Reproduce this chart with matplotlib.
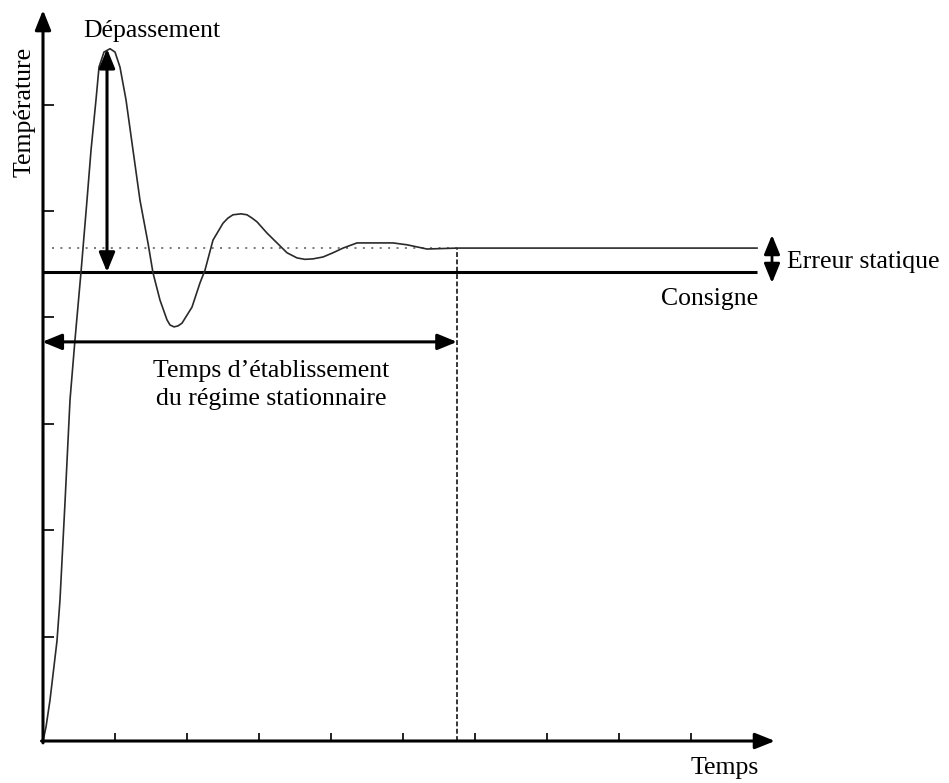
import matplotlib
matplotlib.use("Agg")
import matplotlib.pyplot as plt

# ---- data (time in tick units, temperature normalised to the set point) ----
time = [0, 0.042, 0.097, 0.194, 0.236, 0.306, 0.375, 0.444, 0.528, 0.611,
        0.667, 0.736, 0.778, 0.847, 0.931, 1.0, 1.069, 1.153, 1.25, 1.347,
        1.458, 1.528, 1.625, 1.722, 1.764, 1.819, 1.875, 1.931, 2.069, 2.181,
        2.25, 2.361, 2.5, 2.569, 2.639, 2.75, 2.833, 2.903, 2.972, 3.111, 3.25,
        3.389, 3.528, 3.639, 3.75, 3.889, 4.028, 4.167, 4.361, 4.861, 5.056,
        5.333, 5.75, 9.917]
temperature = [0, 0.030, 0.087, 0.213, 0.301, 0.510, 0.727, 0.855, 1.0, 1.153,
               1.260, 1.367, 1.437, 1.469, 1.476, 1.469, 1.437, 1.367, 1.260,
               1.153, 1.062, 0.998, 0.940, 0.898, 0.887, 0.883, 0.885, 0.891,
               0.925, 0.977, 1.004, 1.068, 1.104, 1.115, 1.122, 1.124, 1.122,
               1.115, 1.107, 1.083, 1.062, 1.041, 1.030, 1.027, 1.028, 1.032,
               1.041, 1.051, 1.062, 1.062, 1.058, 1.049, 1.051, 1.051]

consigne = 1.0
steady_value = 1.051
t_end = 9.917
t_settle = 5.75
t_peak = 0.889
peak_value = 1.476
t_dotted_start = 0.125
settle_arrow_y = 0.851
t_error_arrow = 10.125
error_arrow_span = [0.9765, 1.079]

x_ticks = [1, 2, 3, 4, 5, 6, 7, 8, 9]
y_ticks = [0.2224, 0.4493, 0.6761, 0.9030, 1.1298, 1.3567]

x_axis_end = 10.167
y_axis_end = 1.5586

# ---- figure ----
plt.rcParams["font.family"] = ["Liberation Serif", "DejaVu Serif"]
FS = 18.5

fig = plt.figure(figsize=(9.49, 7.83), dpi=100)
ax = fig.add_axes([0, 0, 1, 1])
ax.set_xlim(-43 / 72, 906 / 72)
ax.set_ylim(-42 / 469, 741 / 469)

for s in ["top", "right", "left", "bottom"]:
    ax.spines[s].set_visible(False)
ax.spines["left"].set_position(("data", 0))
ax.spines["bottom"].set_position(("data", 0))
ax.xaxis.set_ticks_position("bottom")
ax.yaxis.set_ticks_position("left")
ax.set_xticks(x_ticks)
ax.set_yticks(y_ticks)
ax.tick_params(axis="x", direction="in", length=6, width=1.4, color="#222")
ax.tick_params(axis="y", direction="in", length=8, width=1.4, color="#222")
ax.tick_params(labelbottom=False, labelleft=False)

axis_arrow = dict(arrowstyle="-|>,head_length=0.8,head_width=0.32", lw=2.2,
                  color="black", shrinkA=0, shrinkB=0, mutation_scale=15)
ax.annotate("", xy=(x_axis_end, 0), xytext=(-0.02, 0), arrowprops=axis_arrow)
ax.annotate("", xy=(0, y_axis_end), xytext=(0, -0.004), arrowprops=axis_arrow)

# set point
ax.plot([0, t_end], [consigne, consigne], color="black", lw=2.2,
        solid_capstyle="butt")
# dotted steady-state reference
ax.plot([t_dotted_start, t_settle], [steady_value, steady_value], color="#555",
        lw=1.1, linestyle=(0, (1.3, 4.2)))
# settling time vertical dashed
ax.plot([t_settle, t_settle], [0, steady_value], color="black", lw=1.1,
        linestyle=(0, (3.2, 1.6)))
# response curve
ax.plot(time, temperature, color="#2a2a2a", lw=1.2, solid_joinstyle="round")

dbl = dict(arrowstyle="<|-|>,head_length=0.78,head_width=0.32", lw=2.2,
           color="black", shrinkA=0, shrinkB=0, mutation_scale=15)
ax.annotate("", xy=(t_peak, peak_value), xytext=(t_peak, consigne),
            arrowprops=dbl)
ax.annotate("", xy=(-0.01, settle_arrow_y), xytext=(t_settle, settle_arrow_y),
            arrowprops=dbl)
dbl_small = dict(dbl)
dbl_small["lw"] = 2.0
ax.annotate("", xy=(t_error_arrow, error_arrow_span[1]),
            xytext=(t_error_arrow, error_arrow_span[0]), arrowprops=dbl_small)

# texts
ax.text(1.51, 1.500, "Dépassement", ha="center", va="baseline", fontsize=FS)
ax.text(3.174, 0.776, "Temps d’établissement", ha="center", va="baseline",
        fontsize=FS)
ax.text(3.174, 0.716, "du régime stationnaire", ha="center", va="baseline",
        fontsize=FS)
ax.text(9.93, 0.930, "Consigne", ha="right", va="baseline", fontsize=FS)
ax.text(10.333, 1.0085, "Erreur statique", ha="left", va="baseline",
        fontsize=FS)
ax.text(9.472, -0.0704, "Temps", ha="center", va="baseline", fontsize=FS)
ax.text(-0.167, 1.341, "Température", ha="center", va="baseline",
        rotation=90, rotation_mode="anchor", fontsize=FS)

fig.savefig("out.png", dpi=100, facecolor="white")
